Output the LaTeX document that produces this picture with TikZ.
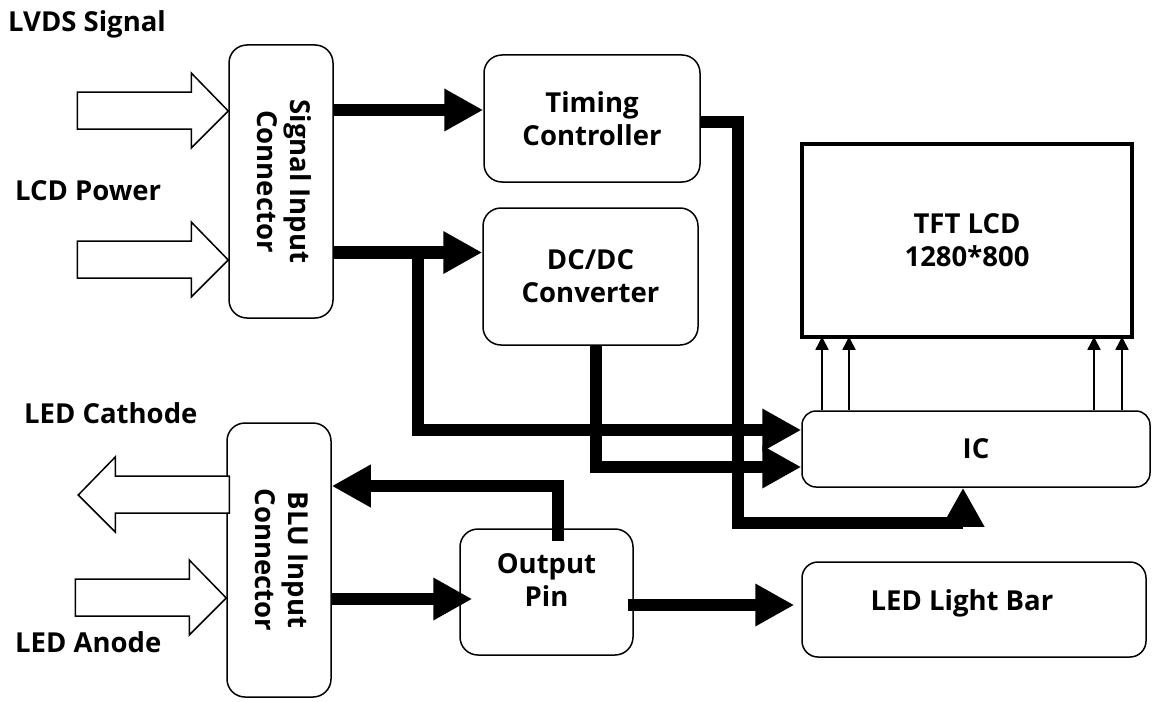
\documentclass[tikz,border=0pt]{standalone}
\usepackage{fontspec}
\setmainfont{Open Sans}
\usetikzlibrary{arrows.meta,positioning}

\begin{document}
\begin{tikzpicture}[x=1pt,y=-1pt,
    box/.style={draw,line width=1.5pt,rounded corners=18pt,align=center,inner sep=0pt,
        font=\bfseries\fontsize{27.5}{33}\selectfont},
    bus/.style={line width=12.5pt,-{Triangle[length=39pt,width=40pt]}},
    pin/.style={line width=1.5pt,-{Triangle[length=13pt,width=13pt]}},
    hollow/.style={draw,line width=1.5pt,fill=white,line join=miter},
    tag/.style={anchor=base west,inner sep=0pt,font=\bfseries\fontsize{27.5}{33}\selectfont},
    hollowin/.pic={\draw[hollow] (0,0) -- ++(-37,-38) -- ++(0,19) -- ++(-114,0) -- ++(0,37)
        -- ++(114,0) -- ++(0,19) -- cycle;}]
    \useasboundingbox (0,0) rectangle (1153,701);

    \node[box,minimum width=104pt,minimum height=273pt] (sic) at (281,181.5)
        {\rotatebox{-90}{\begin{tabular}{@{}c@{}}Signal Input\\Connector\end{tabular}}};
    \node[box,minimum width=104pt,minimum height=274pt] (blu) at (279,560)
        {\rotatebox{-90}{\begin{tabular}{@{}c@{}}BLU Input\\Connector\end{tabular}}};
    \node[box,minimum width=216pt,minimum height=127pt] (tc) at (592,118.5) {Timing\\Controller};
    \node[box,minimum width=215pt,minimum height=137pt] (dc) at (590.5,276.5) {DC/DC\\Converter};
    \node[box,draw=none,rounded corners=0pt,minimum width=328pt,minimum height=191pt] (lcd) at (967,240.5)
        {TFT LCD\\1280*800};
    \draw[line width=4pt] (lcd.north west) rectangle (lcd.south east);
    \node[box,rounded corners=14pt,minimum width=348pt,minimum height=76pt] (ic) at (976,449) {IC};
    \node[box,minimum width=173pt,minimum height=126pt,
        label={[box,draw=none,yshift=12pt]center:Output\\Pin}] (out) at (546.5,592) {};
    \node[box,rounded corners=16pt,minimum width=344pt,minimum height=95pt,
        label={[box,draw=none,xshift=-12pt,yshift=6pt]center:LED Light Bar}] (bar) at (974,609.5) {};

    \node[tag] (lvdstag) at (8,32) {LVDS Signal};
    \node[tag] (powtag) at (15,200) {LCD Power};
    \node[tag] (cathtag) at (24,423) {LED Cathode};
    \node[tag] (anotag) at (15,652) {LED Anode};

    \pic at ([yshift=70.5pt]sic.west) {hollowin};
    \pic at ([yshift=-78.5pt]sic.west) {hollowin};
    \pic[xscale=-1] at ([xshift=-148pt,yshift=65pt]blu.west) {hollowin};
    \pic at ([yshift=-38pt]blu.west) {hollowin};

    \coordinate (tcin) at ([yshift=8.5pt]tc.west);
    \coordinate (dcin) at ([yshift=24pt]dc.west);
    \coordinate (icin1) at ([yshift=19pt]ic.west);
    \coordinate (icin2) at ([yshift=-18pt]ic.west);
    \coordinate (icin3) at ([xshift=-13pt]ic.south);
    \coordinate (bluin) at ([yshift=74pt]blu.east);
    \coordinate (outin) at ([xshift=13pt,yshift=-7pt]out.west);
    \coordinate (barin) at ([xshift=-7pt,yshift=4.5pt]bar.west);

    \draw[bus] (sic.east |- tcin) -- (tcin);
    \draw[bus] (sic.east |- dcin) -- (dcin);
    \draw[bus] ([xshift=84pt]sic.east |- dcin) |- (icin1);
    \draw[bus] ([xshift=5.5pt]dc.south) |- (icin2);
    \draw[bus] ([yshift=-3.5pt]tc.east) -- ++(37,0) -- ++(0,401) -| (icin3);
    \draw[bus] ([xshift=11.5pt,yshift=-13pt]out.north) |- (bluin);
    \draw[bus] (blu.east |- outin) -- (outin);
    \draw[bus] ([xshift=-6pt]out.east |- barin) -- (barin);

    \foreach \dx in {-154,-127,118,146}
        \draw[pin] ([xshift=\dx pt]ic.north) -- ([xshift=\dx pt]ic.north |- lcd.south);
\end{tikzpicture}
\end{document}
